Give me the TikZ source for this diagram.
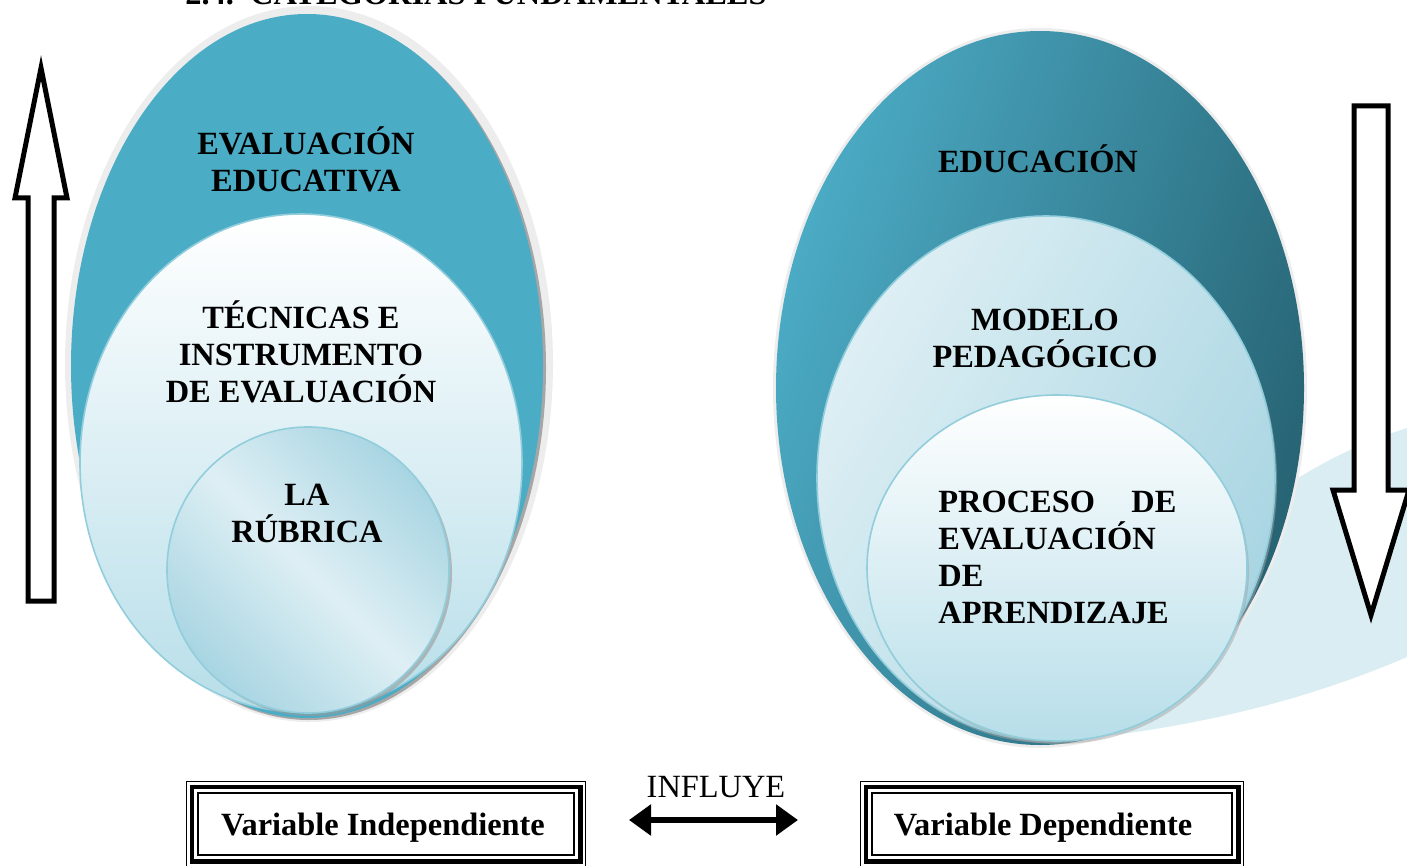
\documentclass[tikz,border=0pt]{standalone}
\usepackage{fontspec}
\setmainfont{Liberation Serif}
\usetikzlibrary{arrows.meta,calc}
\definecolor{blueA}{RGB}{75,172,198}
\definecolor{halo}{RGB}{237,237,237}
\definecolor{rim}{RGB}{146,205,220}
\definecolor{paleA}{RGB}{222,239,244}
\definecolor{paleB}{RGB}{168,213,226}
\definecolor{botA}{RGB}{183,222,233}
\definecolor{tealL}{RGB}{76,172,198}
\definecolor{tealD}{RGB}{38,98,114}
\definecolor{swoosh}{RGB}{218,237,243}
\tikzset{
  lbl/.style={font=\fontsize{16.2}{18.5}\selectfont\bfseries, align=center, inner sep=0pt},
  plain/.style={font=\fontsize{16.2}{18.5}\selectfont, inner sep=0pt},
  bigarrow/.style={draw=black, line width=2.5pt, fill=white, line join=miter},
  rimline/.style={draw=rim, line width=0.8pt},
  boxthin/.style={draw=black, line width=0.6pt},
  boxthick/.style={draw=black, line width=2.4pt},
  dblarrow/.style={line width=3pt, {Triangle[length=11pt,width=15pt]}-{Triangle[length=11pt,width=15pt]}}
}
\begin{document}
\begin{tikzpicture}[x=0.5pt,y=-0.5pt]
\useasboundingbox (0,0) rectangle (1407,866);
\clip (0,0) rectangle (1407,866);

% title (cut off at top in the reference)
\node[lbl, anchor=base west] (title) at (185,5) {2.4.\ \ CATEGORÍAS FUNDAMENTALES};

% ---------- left group ----------
\fill[halo] (309,364) ellipse [x radius=122pt, y radius=179pt];
\fill[black!35] (309,368) ellipse [x radius=118.5pt, y radius=176pt];
\fill[blueA] (307,366) ellipse [x radius=118pt, y radius=176pt];
\shade[top color=white, bottom color=botA] (301,463) ellipse [x radius=110.5pt, y radius=124.5pt];
\draw[rimline] (301,463) ellipse [x radius=110.5pt, y radius=124.5pt];
\fill[black!40, opacity=0.6] (311,573) ellipse [x radius=70.5pt, y radius=71.5pt];
\shade[left color=paleB, right color=paleB, middle color=paleA, shading angle=135]
  (308,570) ellipse [x radius=70.5pt, y radius=71.5pt];
\draw[rimline] (308,570) ellipse [x radius=70.5pt, y radius=71.5pt];

\node[lbl] (ee) at (306,159) {EVALUACIÓN\\EDUCATIVA};
\node[lbl] (tec) at (301,352) {TÉCNICAS E\\INSTRUMENTO\\DE EVALUACIÓN};
\node[lbl] (rub) at (307,513) {LA\\RÚBRICA};

% ---------- right group ----------
\fill[swoosh] (1407,428) .. controls (1330,452) and (1250,500) .. (1190,570)
  -- (1090,738) .. controls (1230,722) and (1330,690) .. (1407,657) -- cycle;
\fill[halo] (1040,388) ellipse [x radius=133.5pt, y radius=180pt];
\shade[left color=tealL, right color=tealD, shading angle=72]
  (1040,388) ellipse [x radius=132pt, y radius=178.5pt];
\fill[black!35, opacity=0.5] (1048,481) ellipse [x radius=114.5pt, y radius=131pt];
\shade[left color=paleA, right color=paleB, shading angle=60]
  (1046,478) ellipse [x radius=114.5pt, y radius=131pt];
\draw[rimline] (1046,478) ellipse [x radius=114.5pt, y radius=131pt];
\fill[black!35, opacity=0.5] (1059,571) ellipse [x radius=95pt, y radius=86.5pt];
\shade[top color=white, bottom color=botA] (1057,568) ellipse [x radius=95pt, y radius=86.5pt];
\draw[rimline] (1057,568) ellipse [x radius=95pt, y radius=86.5pt];

\node[lbl] (edu) at (1038,159) {EDUCACIÓN};
\node[lbl] (mod) at (1045,338) {MODELO\\PEDAGÓGICO};
\node[lbl, anchor=west, align=left] (proc) at (938,557)
  {\hbox to 119pt{PROCESO\hfill DE}\\EVALUACIÓN\\DE\\APRENDIZAJE};

% ---------- big arrows ----------
\draw[bigarrow] (41,68) -- (67,198) -- (54,198) -- (54,601) -- (28,601) -- (28,198) -- (15,198) -- cycle;
\draw[bigarrow] (1354,106) -- (1388,106) -- (1388,490) -- (1409,490) -- (1371,615)
  -- (1333,490) -- (1354,490) -- cycle;

% ---------- bottom boxes ----------
\node[boxthin, minimum width=188pt, minimum height=31pt, inner sep=0pt] (vi) at (386,824) {};
\draw[boxthick] ($(vi.north west)+(-5.5,-5.5)$) rectangle ($(vi.south east)+(5.5,5.5)$);
\draw[boxthin] ($(vi.north west)+(-11,-11)$) rectangle ($(vi.south east)+(11,11)$);
\node[lbl] (vit) at (383,828) {Variable Independiente};

\node[boxthin, minimum width=180pt, minimum height=31pt, inner sep=0pt] (vd) at (1052,824) {};
\draw[boxthick] ($(vd.north west)+(-5.5,-5.5)$) rectangle ($(vd.south east)+(5.5,5.5)$);
\draw[boxthin] ($(vd.north west)+(-11,-11)$) rectangle ($(vd.south east)+(11,11)$);
\node[lbl] (vdt) at (1043,828) {Variable Dependiente};

\node[plain] (inf) at (716,787) {INFLUYE};
\coordinate (ia) at (629,820);
\coordinate (ib) at (798,820);
\draw[dblarrow] (ia) -- (ib);
\end{tikzpicture}
\end{document}
